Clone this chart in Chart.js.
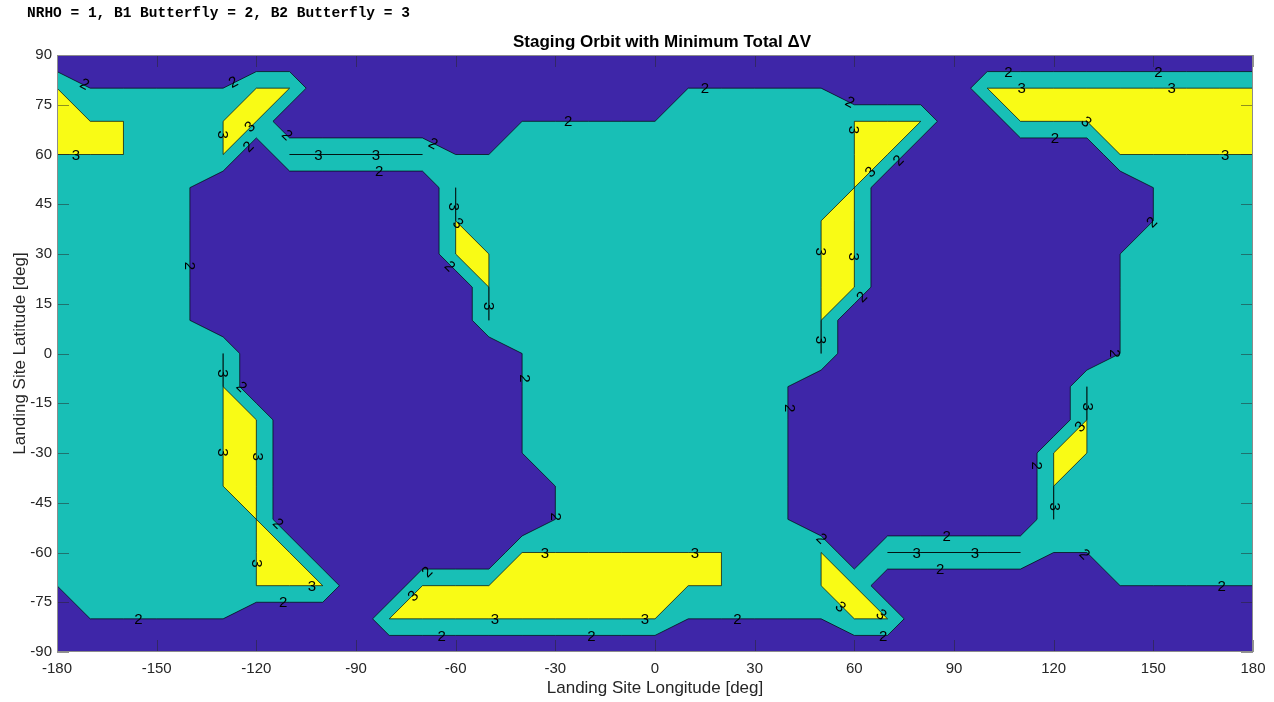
<!DOCTYPE html>
<html>
<head>
<meta charset="utf-8">
<script src="https://cdn.jsdelivr.net/npm/chart.js@4.4.0/dist/chart.umd.min.js"></script>
<style>
    html, body { margin: 0; padding: 0; background: #fff; }
    #wrap { width: 1274px; height: 702px; }
</style>
</head>
<body>
<div id="wrap"><canvas id="orbitChart" width="1274" height="702"></canvas></div>
<script>
// grid axes of the sampled landing sites
var lons = [-180, -170, -160, -150, -140, -130, -120, -110, -100, -90, -80, -70, -60, -50, -40, -30, -20, -10,
    0, 10, 20, 30, 40, 50, 60, 70, 80, 90, 100, 110, 120, 130, 140, 150, 160, 170, 180];
var lats = [90, 80, 70, 60, 50, 40, 30, 20, 10, 0, -10, -20, -30, -40, -50, -60, -70, -80, -90];

// best staging orbit per site (1 = NRHO, 2 = B1 Butterfly, 3 = B2 Butterfly), one row per latitude
var orbitGrid = [
    [1,1,1,1,1,1,1,1,1,1,1,1,1,1,1,1,1,1,1,1,1,1,1,1,1,1,1,1,1,1,1,1,1,1,1,1,1], // 90
    [3,2,2,2,2,2,3,3,1,1,1,1,1,1,1,1,1,1,1,2,2,2,2,2,1,1,1,1,3,3,3,3,3,3,3,3,3], // 80
    [3,3,3,2,2,3,3,1,1,1,1,1,1,1,2,2,2,2,2,2,2,2,2,2,3,3,3,1,1,3,3,3,3,3,3,3,3], // 70
    [3,3,3,2,2,3,1,3,3,3,3,3,2,2,2,2,2,2,2,2,2,2,2,2,3,3,1,1,1,1,1,1,3,3,3,3,3], // 60
    [2,2,2,2,2,1,1,1,1,1,1,1,3,2,2,2,2,2,2,2,2,2,2,2,3,1,1,1,1,1,1,1,1,2,2,2,2], // 50
    [2,2,2,2,2,1,1,1,1,1,1,1,3,2,2,2,2,2,2,2,2,2,2,3,3,1,1,1,1,1,1,1,1,2,2,2,2], // 40
    [2,2,2,2,2,1,1,1,1,1,1,1,3,3,2,2,2,2,2,2,2,2,2,3,3,1,1,1,1,1,1,1,2,2,2,2,2], // 30
    [2,2,2,2,2,1,1,1,1,1,1,1,1,3,2,2,2,2,2,2,2,2,2,3,3,1,1,1,1,1,1,1,2,2,2,2,2], // 20
    [2,2,2,2,2,1,1,1,1,1,1,1,1,3,2,2,2,2,2,2,2,2,2,3,1,1,1,1,1,1,1,1,2,2,2,2,2], // 10
    [2,2,2,2,2,3,1,1,1,1,1,1,1,1,2,2,2,2,2,2,2,2,2,3,1,1,1,1,1,1,1,1,2,2,2,2,2], // 0
    [2,2,2,2,2,3,1,1,1,1,1,1,1,1,2,2,2,2,2,2,2,2,2,1,1,1,1,1,1,1,1,3,2,2,2,2,2], // -10
    [2,2,2,2,2,3,3,1,1,1,1,1,1,1,2,2,2,2,2,2,2,2,2,1,1,1,1,1,1,1,1,3,2,2,2,2,2], // -20
    [2,2,2,2,2,3,3,1,1,1,1,1,1,1,2,2,2,2,2,2,2,2,2,1,1,1,1,1,1,1,3,3,2,2,2,2,2], // -30
    [2,2,2,2,2,3,3,1,1,1,1,1,1,1,1,2,2,2,2,2,2,2,2,1,1,1,1,1,1,1,3,2,2,2,2,2,2], // -40
    [2,2,2,2,2,2,3,1,1,1,1,1,1,1,1,2,2,2,2,2,2,2,2,1,1,1,1,1,1,1,3,2,2,2,2,2,2], // -50
    [2,2,2,2,2,2,3,3,1,1,1,1,1,1,3,3,3,3,3,3,3,2,2,3,1,3,3,3,3,3,2,2,2,2,2,2,2], // -60
    [2,2,2,2,2,2,3,3,3,1,1,3,3,3,3,3,3,3,3,3,3,2,2,3,3,1,1,1,1,1,1,1,2,2,2,2,2], // -70
    [1,2,2,2,2,2,1,1,1,1,3,3,3,3,3,3,3,3,3,2,2,2,2,2,3,3,1,1,1,1,1,1,1,1,1,1,1], // -80
    [1,1,1,1,1,1,1,1,1,1,1,1,1,1,1,1,1,1,1,1,1,1,1,1,1,1,1,1,1,1,1,1,1,1,1,1,1]  // -90
];

var contourLevels = [2, 3];
var fillColors = ['#3e26a8', '#18bfb6', '#f9fb15'];

// inline contour labels: [lon, lat, text, rotation in degrees]
var contourLabels = [
    [-171.6, 81.3, '2', 27], [-127, 81.9, '2', -27], [-130, 66, '3', 90], [-122, 68.5, '3', -45],
    [-122.5, 62.4, '2', -45], [-110.7, 65.9, '2', 45], [-174.3, 60, '3', 0], [-101.3, 60, '3', 0],
    [-84, 60, '3', 0], [-83, 55, '2', 0], [-66.7, 63.4, '2', 27], [-60.5, 44.3, '3', 90],
    [-59.2, 39.3, '3', 45], [-61.7, 26.4, '2', 45], [-50, 14.3, '3', 90], [-140, 26.4, '2', 90],
    [-26.1, 70, '2', 0], [15, 80, '2', 0], [58.7, 75.9, '2', 27], [60, 67.4, '3', 90],
    [50, 30.7, '3', 90], [60, 29.2, '3', 90], [62.2, 17.1, '2', -45], [50, 4.1, '3', 90],
    [64.7, 54.8, '3', -45], [73.2, 58.3, '2', -45], [106.4, 85, '2', 0], [110.4, 80, '3', 0],
    [120.4, 65, '2', 0], [129.9, 69.9, '3', 45], [151.5, 85, '2', 0], [155.5, 80, '3', 0],
    [171.6, 60, '3', 0], [149.5, 39.7, '2', -45], [138.5, 0, '2', 90], [114.9, -33.8, '2', 90],
    [130.4, -16, '3', 90], [127.9, -22, '3', -45], [120.4, -46.2, '3', 90], [129.4, -60.5, '2', 45],
    [170.6, -70, '2', 0], [87.8, -55, '2', 0], [78.8, -60, '3', 0], [96.3, -60, '3', 0],
    [85.8, -65, '2', 0], [68.2, -78.6, '3', 45], [68.7, -85, '2', 0], [40.6, -16.5, '2', 90],
    [50.2, -55.7, '2', 45], [55.9, -76.3, '3', 45], [24.8, -80, '2', 0], [12, -60, '3', 0],
    [-3, -80, '3', 0], [-19.1, -85, '2', 0], [-33.1, -60, '3', 0], [-48.2, -80, '3', 0],
    [-29.8, -49.2, '2', 90], [-39.1, -7.5, '2', 90], [-68.7, -65.8, '2', -45], [-72.9, -73, '3', -45],
    [-64.2, -85, '2', 0], [-111.9, -75, '2', 0], [-103.3, -70, '3', 0], [-113.4, -51.2, '2', 45],
    [-119.4, -31.1, '3', 90], [-130, -29.8, '3', 90], [-129.9, -6, '3', 90], [-124.4, -10, '2', 45],
    [-119.7, -63.3, '3', 90], [-155.5, -80, '2', 0]
];

var chartTitle = 'Staging Orbit with Minimum Total \u0394V';
var legendNote = 'NRHO = 1, B1 Butterfly = 2, B2 Butterfly = 3';

function edgeCross(a, b, va, vb, lev) {
    var t = (lev - va) / (vb - va);
    return [a[0] + t * (b[0] - a[0]), a[1] + t * (b[1] - a[1])];
}

// marching squares for one cell: filled polygons of the ">= lev" region plus the contour segments
function cellGeometry(i, j, lev) {
    var pts = [[lons[i], lats[j]], [lons[i + 1], lats[j]], [lons[i + 1], lats[j + 1]], [lons[i], lats[j + 1]]];
    var v = [orbitGrid[j][i], orbitGrid[j][i + 1], orbitGrid[j + 1][i + 1], orbitGrid[j + 1][i]];
    var hi = v.map(function (x) { return x >= lev; });
    var ex = [];
    for (var k = 0; k < 4; k++) {
        var k2 = (k + 1) % 4;
        ex[k] = hi[k] !== hi[k2] ? edgeCross(pts[k], pts[k2], v[k], v[k2], lev) : null;
    }
    var saddle = hi[0] === hi[2] && hi[1] === hi[3] && hi[0] !== hi[1];
    var joined = (v[0] + v[1] + v[2] + v[3]) / 4 >= lev;
    var polys = [], segs = [];
    if (saddle && !joined) {
        for (k = 0; k < 4; k++) {
            if (hi[k]) polys.push([pts[k], ex[k], ex[(k + 3) % 4]]);
        }
    } else {
        var poly = [];
        for (k = 0; k < 4; k++) {
            if (hi[k]) poly.push(pts[k]);
            if (ex[k]) poly.push(ex[k]);
        }
        if (poly.length > 2) polys.push(poly);
    }
    if (saddle) {
        for (k = 0; k < 4; k++) {
            var lonely = joined ? !hi[k] : hi[k];
            if (lonely) segs.push([ex[(k + 3) % 4], ex[k]]);
        }
    } else {
        var c = ex.filter(function (p) { return p; });
        if (c.length === 2) segs.push(c);
    }
    return { polys: polys, segs: segs };
}

var contourPlugin = {
    id: 'contourFill',
    beforeDatasetsDraw: function (chart) {
        var ctx = chart.ctx, area = chart.chartArea;
        var xs = chart.scales.x, ys = chart.scales.y;
        var px = function (p) { return [xs.getPixelForValue(p[0]), ys.getPixelForValue(p[1])]; };

        ctx.save();
        ctx.beginPath();
        ctx.rect(area.left, area.top, area.right - area.left, area.bottom - area.top);
        ctx.clip();
        ctx.fillStyle = fillColors[0];
        ctx.fillRect(area.left, area.top, area.right - area.left, area.bottom - area.top);

        var linePaths = [];
        contourLevels.forEach(function (lev, n) {
            ctx.beginPath();
            for (var j = 0; j < lats.length - 1; j++) {
                for (var i = 0; i < lons.length - 1; i++) {
                    var g = cellGeometry(i, j, lev);
                    g.polys.forEach(function (poly) {
                        poly.forEach(function (p, m) {
                            var q = px(p);
                            if (m === 0) ctx.moveTo(q[0], q[1]); else ctx.lineTo(q[0], q[1]);
                        });
                        ctx.closePath();
                    });
                    g.segs.forEach(function (s) { linePaths.push([px(s[0]), px(s[1])]); });
                }
            }
            ctx.fillStyle = fillColors[n + 1];
            ctx.fill('nonzero');
        });

        // contour lines
        ctx.beginPath();
        linePaths.forEach(function (s) {
            ctx.moveTo(s[0][0], s[0][1]);
            ctx.lineTo(s[1][0], s[1][1]);
        });
        ctx.strokeStyle = 'rgba(0,0,0,0.85)';
        ctx.lineWidth = 0.8;
        ctx.stroke();

        // labels
        ctx.fillStyle = '#000';
        ctx.font = '15px "Liberation Sans", Arial, sans-serif';
        ctx.textAlign = 'center';
        ctx.textBaseline = 'middle';
        contourLabels.forEach(function (lb) {
            ctx.save();
            ctx.translate(xs.getPixelForValue(lb[0]), ys.getPixelForValue(lb[1]));
            ctx.rotate(lb[3] * Math.PI / 180);
            ctx.fillText(lb[2], 0, 1);
            ctx.restore();
        });
        ctx.restore();
    }
};

var axesBoxPlugin = {
    id: 'axesBox',
    afterDraw: function (chart) {
        var ctx = chart.ctx, a = chart.chartArea;
        var xs = chart.scales.x, ys = chart.scales.y;
        ctx.save();
        // inward tick marks on all four sides
        ctx.beginPath();
        xs.ticks.forEach(function (t) {
            var x = Math.round(xs.getPixelForValue(t.value)) + 0.5;
            ctx.moveTo(x, a.bottom); ctx.lineTo(x, a.bottom - 12);
            ctx.moveTo(x, a.top); ctx.lineTo(x, a.top + 12);
        });
        ys.ticks.forEach(function (t) {
            var y = Math.round(ys.getPixelForValue(t.value)) + 0.5;
            ctx.moveTo(a.left, y); ctx.lineTo(a.left + 12, y);
            ctx.moveTo(a.right, y); ctx.lineTo(a.right - 12, y);
        });
        ctx.strokeStyle = 'rgba(38,38,38,0.5)';
        ctx.lineWidth = 1;
        ctx.stroke();

        ctx.strokeStyle = '#8c8c8c';
        ctx.strokeRect(a.left + 0.5, a.top + 0.5, a.right - a.left - 1, a.bottom - a.top - 1);

        ctx.fillStyle = '#000';
        ctx.textBaseline = 'middle';
        ctx.textAlign = 'center';
        ctx.font = 'bold 17px "Liberation Sans", Arial, sans-serif';
        ctx.fillText(chartTitle, (a.left + a.right) / 2 + 7, 42);

        ctx.textAlign = 'left';
        ctx.font = 'bold 14.5px "Liberation Mono", "DejaVu Sans Mono", monospace';
        ctx.fillText(legendNote, 27, 13);
        ctx.restore();
    }
};

var ctx = document.getElementById('orbitChart').getContext('2d');
var orbitChart = new Chart(ctx, {
    type: 'scatter',
    data: { datasets: [] },
    options: {
        responsive: false,
        animation: false,
        devicePixelRatio: 1,
        layout: { padding: { top: 55, right: 21, bottom: 0, left: 0 } },
        plugins: {
            legend: { display: false },
            tooltip: { enabled: false }
        },
        scales: {
            x: {
                type: 'linear',
                min: -180,
                max: 180,
                grid: { display: false, drawTicks: false },
                border: { display: false },
                ticks: {
                    stepSize: 30,
                    padding: 8,
                    maxRotation: 0,
                    autoSkip: false,
                    color: '#262626',
                    font: { family: '"Liberation Sans", Arial, sans-serif', size: 15 }
                },
                title: {
                    display: true,
                    text: 'Landing Site Longitude [deg]',
                    color: '#262626',
                    padding: { top: 0, bottom: 3 },
                    font: { family: '"Liberation Sans", Arial, sans-serif', size: 17 }
                },
                afterFit: function (scale) { scale.height = 50; }
            },
            y: {
                type: 'linear',
                min: -90,
                max: 90,
                grid: { display: false, drawTicks: false },
                border: { display: false },
                ticks: {
                    stepSize: 15,
                    padding: 5,
                    autoSkip: false,
                    color: '#262626',
                    font: { family: '"Liberation Sans", Arial, sans-serif', size: 15 }
                },
                title: {
                    display: true,
                    text: 'Landing Site Latitude [deg]',
                    color: '#262626',
                    padding: { top: 10, bottom: 0 },
                    font: { family: '"Liberation Sans", Arial, sans-serif', size: 17 }
                },
                afterFit: function (scale) { scale.width = 57; }
            }
        }
    },
    plugins: [contourPlugin, axesBoxPlugin]
});
</script>
</body>
</html>
